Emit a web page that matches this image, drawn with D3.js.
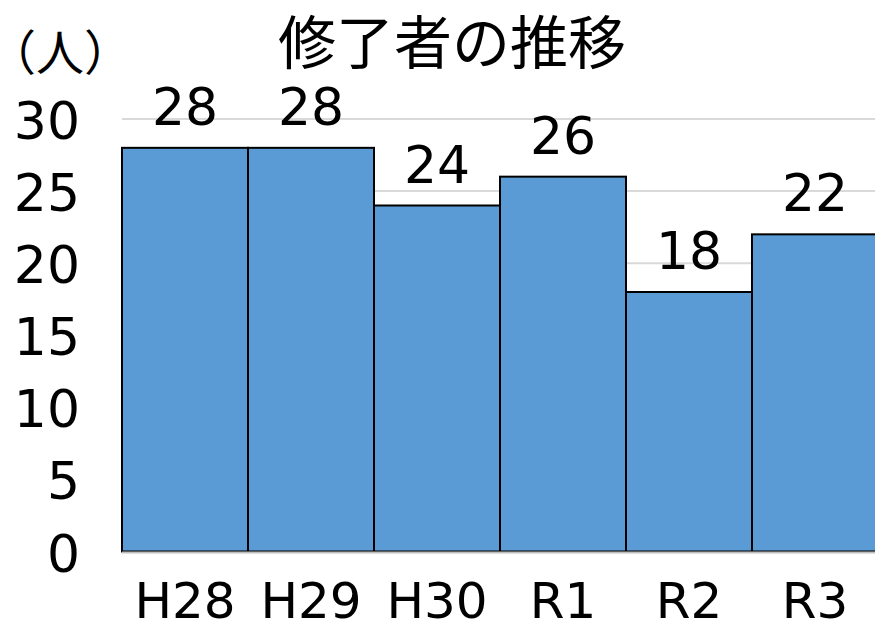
<!DOCTYPE html>
<html><head><meta charset="utf-8">
<script src="https://cdn.jsdelivr.net/npm/d3@7"></script>
<style>body{margin:0;background:#fff}text{fill:#000}.n{font-family:"DejaVu Sans",sans-serif}.j{font-family:"Noto Sans CJK JP",sans-serif}</style>
</head><body><svg id="c" width="875" height="625"></svg>
<script>
const categories = ["H28","H29","H30","R1","R2","R3"];
const values = [28,28,24,26,18,22];
const yTicks = [0,5,10,15,20,25,30];
const title = "修了者の推移";
const unit = "（人）";

const svg = d3.select("#c");
const x = d3.scaleBand().domain(categories).range([122, 878]).padding(0);
const y = d3.scaleLinear().domain([0,30]).range([551.5, 119]);

svg.append("g").selectAll("line").data(yTicks.filter(d=>d>0)).join("line")
  .attr("x1",122).attr("x2",875).attr("y1",d=>y(d)).attr("y2",d=>y(d))
  .attr("stroke","#d9d9d9").attr("stroke-width",2);

svg.append("g").selectAll("rect").data(values).join("rect")
  .attr("x",(d,i)=>x(categories[i])).attr("width",x.bandwidth())
  .attr("y",d=>y(d)).attr("height",d=>y(0)-y(d))
  .attr("fill","#5B9BD5").attr("stroke","#000").attr("stroke-width",2);

svg.append("line").attr("x1",122).attr("x2",875).attr("y1",y(0)+1).attr("y2",y(0)+1)
  .attr("stroke","#bfbfbf").attr("stroke-width",2);

svg.append("g").selectAll("text").data(yTicks).join("text").attr("class","n")
  .attr("x",80).attr("y",d=>y(d)+20).attr("text-anchor","end")
  .attr("font-size",52).text(d=>d);

svg.append("g").selectAll("text").data(categories).join("text").attr("class","n")
  .attr("x",d=>x(d)+x.bandwidth()/2).attr("y",618).attr("text-anchor","middle")
  .attr("font-size",50).text(d=>d);

svg.append("g").selectAll("text").data(values).join("text").attr("class","n")
  .attr("x",(d,i)=>x(categories[i])+x.bandwidth()/2).attr("y",d=>y(d)-23)
  .attr("text-anchor","middle").attr("font-size",52).text(d=>d);

svg.append("text").attr("class","j").attr("x",452).attr("y",64).attr("text-anchor","middle")
  .attr("font-size",58).text(title);
svg.append("text").attr("class","j").attr("x",-12).attr("y",70).attr("font-size",48).text(unit);
</script></body></html>
